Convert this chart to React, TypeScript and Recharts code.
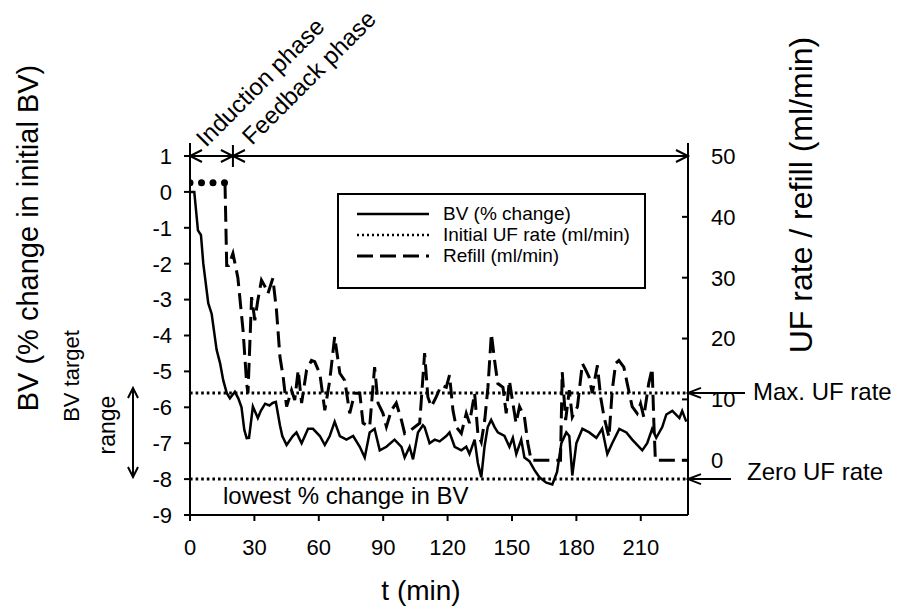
import React from 'react';
import { LineChart, Line, XAxis, YAxis, ReferenceLine, Legend } from 'recharts';

// BV (% change in initial BV), left axis
const bvTime = [0, 2, 3.7, 5.1, 6.2, 8.5, 10.1, 12.4, 14, 15.5, 17.1, 18.6, 20.9, 22.5, 24, 25.3, 26.4, 27.5, 29.3, 31.6, 33, 35, 37, 38.5, 40, 41.9, 43, 45, 47.9, 49.6, 52, 55, 57.3, 60.5, 62.8, 65.1, 67.4, 69.8, 72.9, 76, 79.1, 81.4, 83.7, 86, 88.4, 91.5, 95.3, 98.5, 100, 102.3, 103.9, 106.2, 108.5, 109.3, 111.6, 114, 116.3, 119.4, 120.9, 123.3, 126.4, 128.7, 130.2, 132.6, 134.1, 135.7, 137.2, 138.7, 140.3, 141.9, 143.4, 146.5, 148.8, 150.4, 152, 154.3, 155.8, 158.1, 160.5, 162.8, 166, 168.8, 171, 173, 175.3, 176.7, 178.1, 180, 182.8, 186, 189.3, 192, 194.4, 196.7, 200, 203.3, 206, 210.7, 213, 215.3, 217.2, 220, 221.9, 224.7, 228, 229.3, 231.2];
const bvValue = [0, 0, -1.07, -1.2, -2.0, -3.1, -3.4, -4.4, -4.77, -5.25, -5.6, -5.75, -5.57, -5.75, -6.0, -6.63, -6.86, -6.85, -5.98, -6.3, -6.1, -5.9, -5.95, -5.88, -5.85, -6.5, -6.8, -7.05, -6.8, -6.7, -7.0, -6.6, -6.6, -6.8, -7.05, -6.8, -6.4, -6.8, -6.9, -6.8, -7.1, -7.4, -6.7, -6.6, -7.2, -7.1, -6.9, -7.1, -7.4, -7.1, -7.45, -6.7, -6.5, -6.55, -7.0, -6.9, -6.95, -6.8, -6.7, -7.1, -7.2, -7.1, -7.3, -6.9, -7.55, -7.95, -7.1, -6.55, -6.35, -6.55, -6.7, -6.8, -7.1, -6.85, -7.3, -6.9, -7.4, -7.5, -7.75, -7.95, -8.1, -8.15, -7.8, -7.0, -6.7, -6.8, -7.9, -7.0, -6.6, -6.7, -6.85, -6.6, -7.3, -7.0, -6.6, -6.7, -6.9, -7.2, -7.0, -6.6, -6.85, -6.55, -6.2, -6.1, -6.3, -6.1, -6.4];

// refill (ml/min), right axis
const refillTime = [16.3, 17.1, 18, 20, 22.3, 24.7, 26.4, 27, 28.7, 30.2, 31.6, 33.3, 35, 36.3, 38.6, 40.3, 41.9, 43.4, 45, 47.3, 48.8, 50.4, 52, 54.3, 56.6, 58.1, 60.5, 62.8, 65.1, 67.4, 69.8, 72.1, 74.4, 76.7, 79.1, 80.6, 83.7, 86, 87.6, 89.9, 91.5, 93.8, 96.1, 98.5, 100, 103, 107, 109.3, 110.8, 112.4, 114.7, 117, 119.4, 120.9, 122.5, 124, 126.4, 128.7, 130.2, 132.6, 134.1, 135.7, 137.3, 138.8, 140.4, 141.9, 143.4, 145.8, 147.3, 148.8, 150.4, 151.9, 153.5, 155.8, 157.4, 158.9, 172.6, 173.4, 175, 176.7, 178.1, 180.5, 182.8, 184.4, 185.9, 187.4, 189.8, 191.3, 192.9, 195.2, 196.7, 198.3, 199.8, 202.1, 203.7, 206, 208.3, 209.9, 211.4, 213.7, 215.3, 216.1, 216.8, 231.6];
const refillValue = [45.6, 32, 32, 34, 30, 21.4, 12.6, 11, 26.8, 23, 26.3, 29.6, 28.5, 27.4, 29.9, 24.6, 17, 13.7, 8.8, 11.5, 9.9, 14.8, 9.4, 14.8, 16.4, 16.2, 14.2, 8.2, 13.1, 20.3, 14.3, 13.1, 7.7, 11, 11, 6.1, 5.5, 15.3, 9.4, 7.7, 5.5, 8.2, 9.4, 6.6, 4.4, 5, 6.1, 17.6, 10.4, 8.8, 10.4, 12.3, 12, 14, 8.2, 5.5, 4.4, 7.7, 6.1, 11, 4.4, 3, 6.6, 12, 20.8, 16.4, 12.6, 12, 7.7, 13.1, 9.4, 6.1, 8.8, 7.1, 2.8, 0, 0, 14.5, 6.6, 11.5, 7.1, 8.8, 15.9, 14.8, 13.7, 11, 15.6, 10.4, 7.1, 3.8, 11.5, 15.9, 16.4, 15.3, 12.6, 8.8, 7.7, 9.3, 7.1, 12.6, 15.1, 6.1, 0, 0];

// initial UF rate (ml/min), right axis
const initialUfTime = [0, 16.3];
const initialUfValue = [45.6, 45.6];

const xTicks = [0, 30, 60, 90, 120, 150, 180, 210];
const leftTicks = [1, 0, -1, -2, -3, -4, -5, -6, -7, -8, -9];
const rightTicks = [0, 10, 20, 30, 40, 50];
const maxUfLevel = -5.6;
const lowestBvLevel = -8;
const inductionEnd = 20;

const bvData = bvTime.map((t, i) => ({ t, bv: bvValue[i] }));
const refillData = refillTime.map((t, i) => ({ t, refill: refillValue[i] }));
const initialUfData = initialUfTime.map((t, i) => ({ t, uf: initialUfValue[i] }));

const FONT = "Arial, 'Liberation Sans', sans-serif";
const W = 900;
const H = 615;
const PLOT = { left: 190, right: 688, top: 156, bottom: 515 };
const X_MAX = 232;
const L_DOMAIN: [number, number] = [-9, 1];
const R_DOMAIN: [number, number] = [-9, 50];

const sx = (t: number) => PLOT.left + (t / X_MAX) * (PLOT.right - PLOT.left);
const syL = (v: number) =>
  PLOT.top + ((L_DOMAIN[1] - v) / (L_DOMAIN[1] - L_DOMAIN[0])) * (PLOT.bottom - PLOT.top);

const legendRows = [
  { name: 'BV (% change)', dash: undefined as string | undefined, w: 2.5 },
  { name: 'Initial UF rate (ml/min)', dash: '2 3', w: 2.5 },
  { name: 'Refill (ml/min)', dash: '16 7', w: 3 },
];

const RightTick = (props: any) => {
  const { x, y, payload } = props;
  const axisX = x - 23;
  return (
    <g>
      <line x1={axisX - 6} y1={y} x2={axisX} y2={y} stroke="#000" strokeWidth={2} />
      <text x={x} y={y} dy="0.355em" textAnchor="start" fontSize={22} fontFamily={FONT} fill="#000">
        {payload.value}
      </text>
    </g>
  );
};

const LegendBox = () => (
  <div style={{ width: '100%', height: '100%', boxSizing: 'border-box', border: '2px solid #000', background: '#fff', paddingTop: 8 }}>
    {legendRows.map((r) => (
      <div key={r.name} style={{ display: 'flex', alignItems: 'center', height: 21 }}>
        <svg width={100} height={21}>
          <line x1={18} y1={11} x2={90} y2={11} stroke="#000" strokeWidth={r.w} strokeDasharray={r.dash} />
        </svg>
        <span style={{ fontFamily: FONT, fontSize: 19, color: '#000', marginLeft: 4 }}>{r.name}</span>
      </div>
    ))}
  </div>
);

const Arrow = ({ x, y, dir, size = 12, half = 6 }: { x: number; y: number; dir: 'l' | 'r' | 'u' | 'd'; size?: number; half?: number }) => {
  let pts: number[][];
  if (dir === 'l') pts = [[x + size, y - half], [x, y], [x + size, y + half]];
  else if (dir === 'r') pts = [[x - size, y - half], [x, y], [x - size, y + half]];
  else if (dir === 'u') pts = [[x - half, y + size], [x, y], [x + half, y + size]];
  else pts = [[x - half, y - size], [x, y], [x + half, y - size]];
  return <polyline points={pts.map((p) => p.join(',')).join(' ')} fill="none" stroke="#000" strokeWidth={2} />;
};

const Annotations = () => {
  const topY = syL(1);
  const xInd = sx(inductionEnd);
  const yMax = syL(maxUfLevel);
  const yLow = syL(lowestBvLevel);
  const txt = { fontFamily: FONT, fill: '#000' };
  return (
    <svg width={W} height={H} style={{ position: 'absolute', left: 0, top: 0, pointerEvents: 'none' }}>
      {/* phase markers */}
      <line x1={PLOT.left} y1={topY - 13} x2={PLOT.left} y2={topY} stroke="#000" strokeWidth={2} />
      <line x1={PLOT.right} y1={topY - 13} x2={PLOT.right} y2={topY} stroke="#000" strokeWidth={2} />
      <line x1={xInd} y1={topY - 11} x2={xInd} y2={topY + 11} stroke="#000" strokeWidth={2} />
      <Arrow x={PLOT.left} y={topY} dir="l" />
      <Arrow x={xInd} y={topY} dir="r" />
      <Arrow x={xInd} y={topY} dir="l" />
      <Arrow x={PLOT.right} y={topY} dir="r" />
      <text {...txt} x={206} y={148} fontSize={24} transform="rotate(-45 206 148)">Induction phase</text>
      <text {...txt} x={252} y={146} fontSize={24} transform="rotate(-45 252 146)">Feedback phase</text>

      {/* right side notes */}
      <line x1={PLOT.right} y1={yMax} x2={745} y2={yMax} stroke="#000" strokeWidth={2} />
      <Arrow x={PLOT.right} y={yMax} dir="l" size={13} half={5} />
      <text {...txt} x={753} y={400} fontSize={24}>Max. UF rate</text>
      <line x1={PLOT.right} y1={yLow} x2={731} y2={yLow} stroke="#000" strokeWidth={2} />
      <Arrow x={PLOT.right} y={yLow} dir="l" size={13} half={5} />
      <text {...txt} x={747} y={480} fontSize={24}>Zero UF rate</text>

      {/* target range */}
      <line x1={133} y1={388} x2={133} y2={477} stroke="#000" strokeWidth={2} />
      <Arrow x={133} y={388} dir="u" size={10} half={5} />
      <Arrow x={133} y={477} dir="d" size={10} half={5} />
      <text {...txt} x={79} y={376} fontSize={22} textAnchor="middle" transform="rotate(-90 79 376)">BV target</text>
      <text {...txt} x={115} y={425} fontSize={23} textAnchor="middle" transform="rotate(-90 115 425)">range</text>

      <text {...txt} x={223} y={504} fontSize={24}>lowest % change in BV</text>

      {/* axis titles */}
      <text {...txt} x={38} y={238} fontSize={29} textAnchor="middle" transform="rotate(-90 38 238)">BV (% change in initial BV)</text>
      <text {...txt} x={812} y={195} fontSize={32} textAnchor="middle" transform="rotate(-90 812 195)">UF rate / refill (ml/min)</text>
      <text {...txt} x={421} y={600} fontSize={28} textAnchor="middle">t (min)</text>
    </svg>
  );
};

export default function App() {
  return (
    <div style={{ position: 'absolute', left: 0, top: 0, width: W, height: H, background: '#fff' }}>
      <LineChart
        width={W}
        height={H}
        margin={{ top: PLOT.top, bottom: H - PLOT.bottom - 40, left: PLOT.left - 60, right: W - PLOT.right - 60 }}
      >
        <XAxis
          dataKey="t"
          type="number"
          domain={[0, X_MAX]}
          ticks={xTicks}
          height={40}
          allowDataOverflow
          stroke="#000"
          strokeWidth={2}
          tickSize={6}
          tickMargin={18}
          tick={{ fill: '#000', fontSize: 22, fontFamily: FONT }}
        />
        <YAxis
          yAxisId="left"
          orientation="left"
          width={60}
          domain={L_DOMAIN}
          ticks={leftTicks}
          allowDataOverflow
          interval={0}
          stroke="#000"
          strokeWidth={2}
          tickSize={6}
          tickMargin={12}
          tick={{ fill: '#000', fontSize: 22, fontFamily: FONT }}
        />
        <YAxis
          yAxisId="right"
          orientation="right"
          width={60}
          domain={R_DOMAIN}
          ticks={rightTicks}
          allowDataOverflow
          interval={0}
          stroke="#000"
          strokeWidth={2}
          tickSize={0}
          tickMargin={23}
          tickLine={false}
          tick={<RightTick />}
        />
        <ReferenceLine yAxisId="left" y={1} stroke="#000" strokeWidth={2} />
        <ReferenceLine yAxisId="left" y={maxUfLevel} stroke="#000" strokeWidth={3} strokeDasharray="2.6 3" />
        <ReferenceLine yAxisId="left" y={lowestBvLevel} stroke="#000" strokeWidth={3} strokeDasharray="2.6 3" />
        <Line
          yAxisId="left"
          data={bvData}
          dataKey="bv"
          name="BV (% change)"
          type="linear"
          stroke="#000"
          strokeWidth={2.5}
          dot={false}
          isAnimationActive={false}
        />
        <Line
          yAxisId="right"
          data={initialUfData}
          dataKey="uf"
          name="Initial UF rate (ml/min)"
          type="linear"
          stroke="#000"
          strokeWidth={7}
          strokeLinecap="round"
          strokeDasharray="0 11.5"
          dot={false}
          isAnimationActive={false}
        />
        <Line
          yAxisId="right"
          data={refillData}
          dataKey="refill"
          name="Refill (ml/min)"
          type="linear"
          stroke="#000"
          strokeWidth={3}
          strokeDasharray="16 7"
          dot={false}
          isAnimationActive={false}
        />
        <Legend
          layout="vertical"
          align="center"
          verticalAlign="middle"
          content={<LegendBox />}
          wrapperStyle={{ left: 337, top: 193, width: 309, height: 96 }}
        />
      </LineChart>
      <Annotations />
    </div>
  );
}
